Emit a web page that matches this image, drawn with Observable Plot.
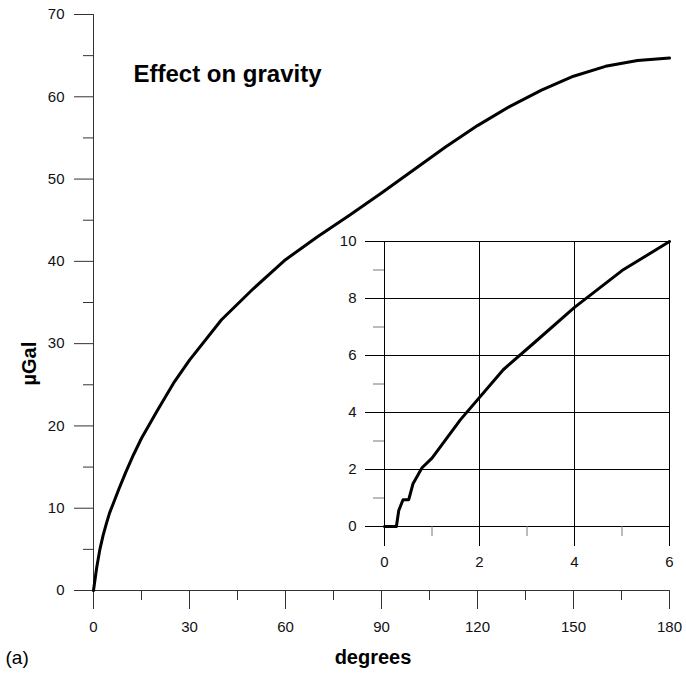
<!DOCTYPE html>
<html><head><meta charset="utf-8">
<script src="https://cdn.jsdelivr.net/npm/d3@7"></script>
<script src="https://cdn.jsdelivr.net/npm/@observablehq/plot@0.6"></script>
<style>
body{margin:0;background:#fff;}
#wrap{position:relative;width:686px;height:680px;}
#inset{position:absolute;left:320px;top:225px;}
svg{overflow:visible;}
</style></head><body>
<div id="wrap"><div id="main"></div><div id="inset"></div></div>
<script>
// Main curve: effect on gravity (µGal) vs angular distance (degrees)
const degrees = [0,1,2,3,4,5,6,8,10,12.5,15,20,25,30,40,50,60,70,80,90,100,110,120,130,140,150,160,170,180];
const gravity = [0,2.8,5.0,6.7,8.1,9.4,10.4,12.4,14.3,16.5,18.5,21.9,25.2,28.0,32.9,36.7,40.2,43.0,45.6,48.3,51.1,53.9,56.5,58.8,60.8,62.5,63.7,64.4,64.7];
// Inset: first 6 degrees
const insetDegrees = [0,0.25,0.30,0.39,0.51,0.60,0.79,1.0,1.6,2.5,3.14,4.0,5.0,6.0];
const insetGravity = [0,0,0.56,0.94,0.94,1.5,2.06,2.4,3.75,5.5,6.43,7.69,8.98,10];

const xMajor = [0,30,60,90,120,150,180];
const xMinor = [15,45,75,105,135,165];
const yMajor = [0,10,20,30,40,50,60,70];
const yMinor = [5,15,25,35,45,55,65];
const insetXMajor = [0,2,4,6];
const insetXMinor = [1,3,5];
const insetYMajor = [0,2,4,6,8,10];
const insetYMinor = [1,3,5,7,9];

const mainData = degrees.map((d,i)=>({deg:d, g:gravity[i]}));
const insetData = insetDegrees.map((d,i)=>({deg:d, g:insetGravity[i]}));

const font = "'Liberation Sans', Arial, Helvetica, sans-serif";

const main = Plot.plot({
  width:686, height:680,
  marginLeft:93, marginRight:17, marginTop:14, marginBottom:90,
  style:{fontFamily:font, fontSize:"15px", color:"#111", background:"transparent"},
  x:{domain:[0,180]},
  y:{domain:[0,70]},
  marks:[
    Plot.axisX(xMajor, {tickSize:19, tickPadding:12, label:null, stroke:"#333", fill:"#111"}),
    Plot.axisX(xMinor, {tickSize:10, tickFormat:()=>"", label:null, stroke:"#333"}),
    Plot.axisY(yMajor, {tickSize:19, tickPadding:10, label:null, stroke:"#333", fill:"#111"}),
    Plot.axisY(yMinor, {tickSize:10, tickFormat:()=>"", label:null, stroke:"#333"}),
    Plot.ruleX([0], {stroke:"#333"}),
    Plot.ruleY([0], {stroke:"#333"}),
    Plot.line(mainData, {x:"deg", y:"g", stroke:"#000", strokeWidth:3, strokeLinejoin:"round"}),
    Plot.text(["Effect on gravity"], {frameAnchor:"top-left", dx:40, dy:50, textAnchor:"start", fontSize:24, fontWeight:"bold", fill:"#000"}),
    Plot.text(["degrees"], {frameAnchor:"bottom", dx:-8.5, dy:73, fontSize:20, fontWeight:"bold", fill:"#000"}),
    Plot.text(["(a)"], {frameAnchor:"bottom-left", dx:-88, dy:73, textAnchor:"start", fontSize:19, fill:"#000"}),
    Plot.text(["µGal"], {frameAnchor:"left", dx:-64, dy:83, rotate:-90, fontSize:20, fontWeight:"bold", fill:"#000"})
  ]
});
document.getElementById("main").appendChild(main);

const inset = Plot.plot({
  width:360, height:360,
  marginLeft:64, marginRight:11, marginTop:16, marginBottom:59,
  style:{fontFamily:font, fontSize:"15px", color:"#111", background:"transparent"},
  x:{domain:[0,6]},
  y:{domain:[0,10]},
  marks:[
    Plot.gridX(insetXMajor, {stroke:"#000", strokeOpacity:1}),
    Plot.gridY(insetYMajor, {stroke:"#000", strokeOpacity:1}),
    Plot.axisX(insetXMajor, {tickSize:20, tickPadding:10, label:null, stroke:"#000", fill:"#111"}),
    Plot.axisX(insetXMinor, {tickSize:10, tickFormat:()=>"", label:null, stroke:"#777"}),
    Plot.axisY(insetYMajor, {tickSize:19, tickPadding:9, label:null, stroke:"#000", fill:"#111"}),
    Plot.axisY(insetYMinor, {tickSize:11, tickFormat:()=>"", label:null, stroke:"#777"}),
    Plot.line(insetData, {x:"deg", y:"g", stroke:"#000", strokeWidth:3, strokeLinejoin:"round"})
  ]
});
document.getElementById("inset").appendChild(inset);
</script>
</body></html>
